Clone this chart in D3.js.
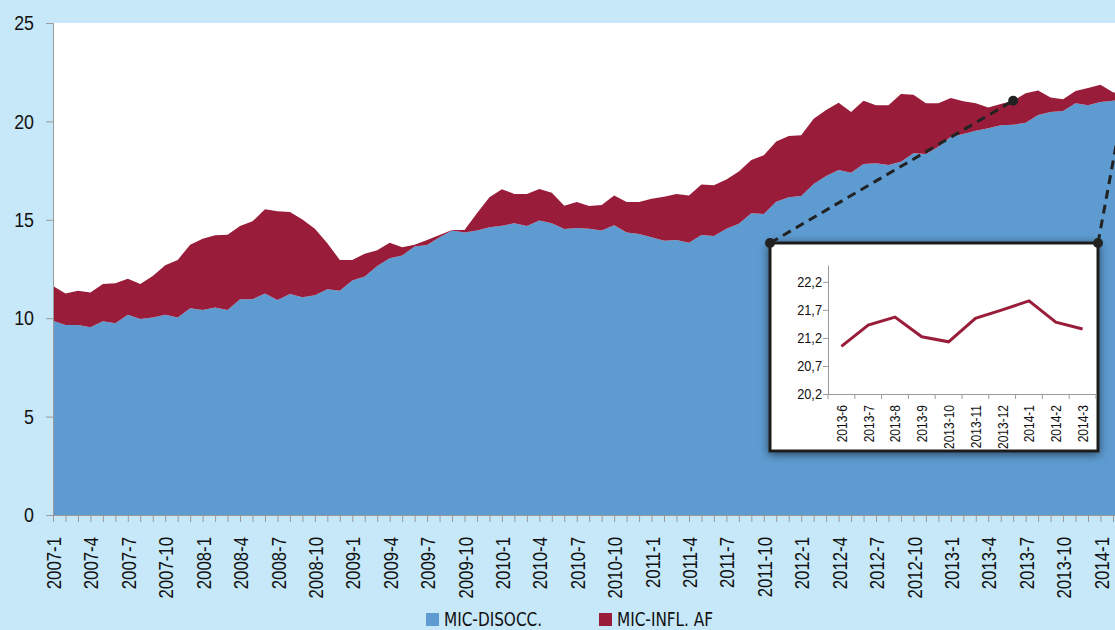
<!DOCTYPE html>
<html lang="en">
<head>
    <meta charset="UTF-8">
    <title>MIC</title>
    <script src="https://d3js.org/d3.v7.min.js"></script>
    <style>
        body {
            margin: 0;
            background: #c6e8f8;
        }
        svg {
            display: block;
            font-family: "Liberation Sans Narrow", "DejaVu Sans Condensed", sans-serif;
        }
        .axis path, .axis line {
            stroke: #9a9a9a;
        }
        .axis text {
            fill: #111;
        }
    </style>
</head>
<body>
    <svg width="1115" height="630"></svg>
    <script>
        // monthly categories 2007-1 .. 2014-3
        const months = [];
        for (let yr = 2007; yr <= 2014; yr++) {
            for (let m = 1; m <= 12; m++) {
                if (yr === 2014 && m > 3) break;
                months.push(yr + "-" + m);
            }
        }

        // MIC-DISOCC. (blue, bottom layer)
        const micDisocc = [
            9.87, 9.65, 9.65, 9.54, 9.84, 9.74, 10.18, 9.96, 10.04, 10.18, 10.04, 10.50,
            10.42, 10.55, 10.42, 10.96, 10.96, 11.26, 10.92, 11.23, 11.06, 11.16, 11.47, 11.40,
            11.91, 12.12, 12.65, 13.04, 13.18, 13.64, 13.72, 14.11, 14.45, 14.35, 14.45, 14.62,
            14.70, 14.82, 14.68, 14.96, 14.82, 14.53, 14.58, 14.55, 14.45, 14.72, 14.35, 14.28,
            14.11, 13.94, 13.97, 13.84, 14.23, 14.18, 14.55, 14.80, 15.33, 15.29, 15.92, 16.14,
            16.21, 16.82, 17.22, 17.53, 17.39, 17.84, 17.87, 17.78, 17.95, 18.38, 18.34, 18.71,
            19.22, 19.36, 19.53, 19.65, 19.80, 19.83, 19.93, 20.33, 20.48, 20.53, 20.92, 20.82,
            20.99, 21.05, 21.10
        ];

        // MIC-INFL. AF (red, stacked on top)
        const micInflAf = [
            1.77, 1.61, 1.75, 1.76, 1.90, 2.03, 1.83, 1.78, 2.10, 2.51, 2.92, 3.23,
            3.62, 3.66, 3.82, 3.72, 3.96, 4.27, 4.51, 4.17, 3.96, 3.39, 2.34, 1.56,
            1.05, 1.16, 0.80, 0.80, 0.42, 0.09, 0.25, 0.12, 0.03, 0.13, 0.88, 1.52,
            1.85, 1.49, 1.63, 1.61, 1.56, 1.19, 1.32, 1.15, 1.30, 1.52, 1.55, 1.62,
            1.96, 2.23, 2.34, 2.40, 2.57, 2.57, 2.50, 2.65, 2.71, 2.99, 3.06, 3.12,
            3.08, 3.32, 3.36, 3.42, 3.09, 3.21, 2.95, 3.04, 3.44, 2.98, 2.58, 2.21,
            1.97, 1.66, 1.39, 1.05, 1.08, 1.22, 1.50, 1.24, 0.74, 0.60, 0.63, 0.88,
            0.87, 0.43, 0.26
        ];

        const yTicks = [0, 5, 10, 15, 20, 25];

        // inset: zoom on the total, last ten months
        const insetMonths = ["2013-6", "2013-7", "2013-8", "2013-9", "2013-10",
                             "2013-11", "2013-12", "2014-1", "2014-2", "2014-3"];
        const insetValues = [21.05, 21.43, 21.57, 21.22, 21.13, 21.55, 21.70, 21.86, 21.48, 21.36];
        const insetTicks = [20.2, 20.7, 21.2, 21.7, 22.2];

        const seriesNames = ["MIC-DISOCC.", "MIC-INFL. AF"];
        const colors = ["#5d9bd1", "#991d3a"];

        const svg = d3.select("svg");
        const plotLeft = 53, plotTop = 23, plotBottom = 515, step = 12.47;
        const squeeze = 0.8;   // condensed look of the original font

        const table = months.map((m, i) => ({ month: m, a: micDisocc[i], b: micInflAf[i] }));

        const x = d3.scalePoint()
            .domain(months)
            .range([plotLeft, plotLeft + step * (months.length - 1)]);

        const y = d3.scaleLinear()
            .domain([0, 25])
            .range([plotBottom, plotTop]);

        // white plot background
        svg.append("rect")
            .attr("x", plotLeft).attr("y", plotTop)
            .attr("width", 1115 - plotLeft).attr("height", plotBottom - plotTop)
            .attr("fill", "#fff");

        const layers = d3.stack().keys(["a", "b"])(table);

        const area = d3.area()
            .x(d => x(d.data.month))
            .y0(d => y(d[0]))
            .y1(d => y(d[1]));

        svg.selectAll(".layer")
            .data(layers)
            .enter().append("path")
            .attr("class", "layer")
            .attr("fill", (d, i) => colors[i])
            .attr("d", area);

        // axes
        svg.append("g")
            .attr("class", "axis")
            .attr("transform", `translate(${plotLeft},0)`)
            .call(d3.axisLeft(y).tickValues(yTicks).tickSize(7).tickPadding(12))
            .call(g => g.selectAll("text")
                .style("font-size", "21px")
                .attr("x", -19 / 0.85)
                .attr("transform", "scale(0.85,1)"));

        svg.append("g")
            .attr("class", "axis")
            .attr("transform", `translate(0,${plotBottom})`)
            .call(d3.axisBottom(x).tickSize(7)
                .tickFormat((d, i) => i % 3 === 0 ? d : ""))
            .call(g => g.select(".domain").attr("d", `M${plotLeft},0.5H1115`))
            .selectAll("text")
            .style("font-size", "21px")
            .attr("transform", `rotate(-90) scale(${squeeze},1)`)
            .attr("x", -22 / squeeze)
            .attr("y", 0)
            .attr("dy", "0.36em")
            .style("text-anchor", "end");

        // legend
        const legendX = [426, 599];
        seriesNames.forEach((name, i) => {
            const g = svg.append("g").attr("transform", `translate(${legendX[i]},0)`);
            g.append("rect")
                .attr("x", 0).attr("y", 613)
                .attr("width", 13).attr("height", 13)
                .attr("fill", colors[i]);
            g.append("text")
                .attr("transform", `translate(18,626) scale(0.85,1)`)
                .style("font-size", "20px")
                .attr("fill", "#111")
                .text(name);
        });

        // inset box
        const box = {x: 770, y: 243, w: 328, h: 208};
        const defs = svg.append("defs");
        const filter = defs.append("filter").attr("id", "shadow")
            .attr("x", "-10%").attr("y", "-10%").attr("width", "120%").attr("height", "125%");
        filter.append("feDropShadow")
            .attr("dx", 0).attr("dy", 2)
            .attr("stdDeviation", 5)
            .attr("flood-color", "#000")
            .attr("flood-opacity", 0.55);

        svg.append("rect")
            .attr("x", box.x).attr("y", box.y)
            .attr("width", box.w).attr("height", box.h)
            .attr("fill", "#fff")
            .attr("stroke", "#1e1e1e")
            .attr("stroke-width", 3)
            .attr("filter", "url(#shadow)");

        // dashed connectors to the zoomed points
        const total = i => micDisocc[i] + micInflAf[i];
        const iStart = months.indexOf(insetMonths[0]);
        const iEnd = months.indexOf(insetMonths[insetMonths.length - 1]);
        const links = [
            [box.x, box.y, x(months[iStart]), y(total(iStart))],
            [box.x + box.w, box.y, x(months[iEnd]), y(total(iEnd))]
        ];
        svg.selectAll(".link")
            .data(links)
            .enter().append("line")
            .attr("class", "link")
            .attr("x1", d => d[0]).attr("y1", d => d[1])
            .attr("x2", d => d[2]).attr("y2", d => d[3])
            .attr("stroke", "#222")
            .attr("stroke-width", 3)
            .attr("stroke-dasharray", "9,6");

        svg.selectAll(".dot")
            .data([[box.x, box.y], [box.x + box.w, box.y], [links[0][2], links[0][3]]])
            .enter().append("circle")
            .attr("cx", d => d[0]).attr("cy", d => d[1])
            .attr("r", 5)
            .attr("fill", "#222");

        // inset chart
        const ix = d3.scaleBand()
            .domain(insetMonths)
            .range([828, 1096]);

        const iy = d3.scaleLinear()
            .domain([20.2, 22.5])
            .range([394, 265]);

        const fmt = d => d.toFixed(1).replace(".", ",");

        svg.append("g")
            .attr("class", "axis")
            .attr("transform", "translate(828,0)")
            .call(d3.axisLeft(iy).tickValues(insetTicks).tickSize(5).tickFormat(fmt).tickSizeOuter(0))
            .call(g => g.selectAll("text")
                .style("font-size", "15px")
                .attr("x", -6 / 0.85)
                .attr("transform", "scale(0.85,1)"));

        const ixAxis = svg.append("g")
            .attr("class", "axis")
            .attr("transform", "translate(0,394)")
            .call(d3.axisBottom(ix).tickSize(0).tickSizeOuter(0));

        ixAxis.selectAll("text")
            .style("font-size", "15px")
            .attr("transform", `rotate(-90) scale(${squeeze},1)`)
            .attr("x", -11 / squeeze)
            .attr("y", 0)
            .attr("dy", "0.36em")
            .style("text-anchor", "end");

        // band boundary ticks
        ixAxis.selectAll(".bound")
            .data(insetMonths.concat(["end"]))
            .enter().append("line")
            .attr("class", "bound")
            .attr("x1", (d, i) => 828 + i * ix.step())
            .attr("x2", (d, i) => 828 + i * ix.step())
            .attr("y1", 0).attr("y2", 5)
            .attr("stroke", "#9a9a9a");

        svg.append("path")
            .datum(insetValues)
            .attr("fill", "none")
            .attr("stroke", colors[1])
            .attr("stroke-width", 3)
            .attr("d", d3.line()
                .x((d, i) => ix(insetMonths[i]) + ix.bandwidth() / 2)
                .y(d => iy(d)));
    </script>
</body>
</html>
